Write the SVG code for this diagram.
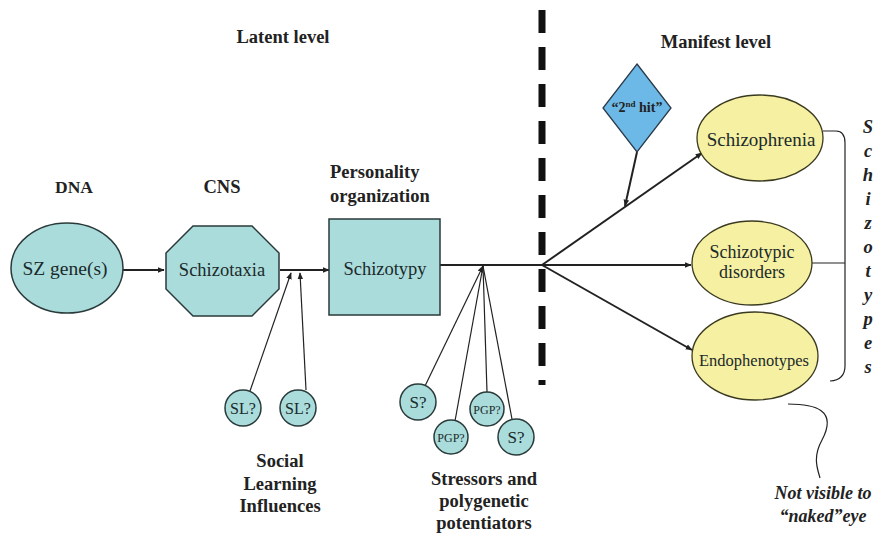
<svg xmlns="http://www.w3.org/2000/svg" width="878" height="536" viewBox="0 0 878 536">
<defs>
<marker id="ah" viewBox="0 0 10 10" refX="9" refY="5" markerWidth="7" markerHeight="7" markerUnits="userSpaceOnUse" orient="auto"><path d="M0,1 L10,5 L0,9 z" fill="#222"/></marker>
</defs>
<style>
text, tspan { font-family: 'Liberation Serif', serif; }
.t{fill:#1a2a2a}
.b{font-weight:bold;fill:#222}
.bi{font-weight:bold;font-style:italic;fill:#222}
.teal{fill:#abdcdc;stroke:#2a3a3a;stroke-width:1.5}
.yel{fill:#f6f0a2;stroke:#3a3a20;stroke-width:1.3}
.ln{stroke:#222;fill:none}
</style>
<rect width="878" height="536" fill="#fff"/>
<g font-family="'Liberation Serif', serif" font-size="18.5">
<text class="b" x="283" y="43" text-anchor="middle">Latent level</text>
<text class="b" x="716" y="48" text-anchor="middle">Manifest level</text>
<text class="b" x="74" y="193" font-size="17.5" text-anchor="middle">DNA</text>
<text class="b" x="222" y="193" text-anchor="middle">CNS</text>
<text class="b" x="330" y="178">Personality</text>
<text class="b" x="330" y="202">organization</text>
</g>
<line x1="542" y1="10" x2="542" y2="385" stroke="#111" stroke-width="7" stroke-dasharray="23,14"/>
<g id="connectors">
<line class="ln" stroke-width="2" x1="123" y1="270" x2="164" y2="270" marker-end="url(#ah)"/>
<line class="ln" stroke-width="2" x1="280" y1="270" x2="329" y2="270" marker-end="url(#ah)"/>
<line class="ln" stroke-width="1.2" x1="250" y1="391" x2="291" y2="273" marker-end="url(#ah)"/>
<line class="ln" stroke-width="1.2" x1="306" y1="390" x2="300" y2="273" marker-end="url(#ah)"/>
<line class="ln" stroke-width="2" x1="440" y1="265" x2="542" y2="265"/>
<line class="ln" stroke-width="1.2" x1="425" y1="386" x2="483" y2="266" marker-end="url(#ah)"/>
<line class="ln" stroke-width="1.2" x1="455" y1="421" x2="483" y2="266"/>
<line class="ln" stroke-width="1.2" x1="487" y1="392" x2="483" y2="266"/>
<line class="ln" stroke-width="1.2" x1="512" y1="419" x2="483" y2="266"/>
<line class="ln" stroke-width="2" x1="542" y1="265" x2="702" y2="153" marker-end="url(#ah)"/>
<line class="ln" stroke-width="2" x1="542" y1="265" x2="691" y2="265" marker-end="url(#ah)"/>
<line class="ln" stroke-width="2" x1="542" y1="265" x2="692" y2="350" marker-end="url(#ah)"/>
<line class="ln" stroke-width="2" x1="637" y1="152" x2="625" y2="206" marker-end="url(#ah)"/>
<path class="ln" stroke-width="1.2" d="M823,131 L836,131 Q845,131 845,143 L845,366 Q845,380 830,381"/>
<line class="ln" stroke-width="1.2" x1="812" y1="263" x2="845" y2="263"/>
<path class="ln" stroke-width="1.2" d="M788,404 C815,404 838,410 822,440 C812,458 818,470 820,478"/>
</g>
<g font-family="'Liberation Serif', serif">
<g id="sz-gene"><ellipse class="teal" cx="67" cy="268" rx="56" ry="45"/><text class="t" x="65" y="275" font-size="19.5" text-anchor="middle">SZ gene(s)</text></g>
<g id="schizotaxia"><polygon class="teal" points="193,226 252,226 279,253 279,289 252,316 193,316 166,289 166,253"/><text class="t" x="222" y="276" font-size="18.5" text-anchor="middle">Schizotaxia</text></g>
<g id="schizotypy"><rect class="teal" x="329" y="219" width="111" height="96"/><text class="t" x="385" y="275" font-size="18.5" text-anchor="middle">Schizotypy</text></g>
<g id="sl1"><circle class="teal" cx="243" cy="408" r="18"/><text class="t" x="243" y="414" font-size="16" text-anchor="middle">SL?</text></g>
<g id="sl2"><circle class="teal" cx="298" cy="408" r="18"/><text class="t" x="298" y="414" font-size="16" text-anchor="middle">SL?</text></g>
<g id="s1"><circle class="teal" cx="418" cy="402" r="18"/><text class="t" x="418" y="408" font-size="17" text-anchor="middle">S?</text></g>
<g id="pgp1"><circle class="teal" cx="451" cy="437" r="17"/><text class="t" x="451" y="442" font-size="12" text-anchor="middle">PGP?</text></g>
<g id="pgp2"><circle class="teal" cx="487" cy="409" r="17"/><text class="t" x="487" y="414" font-size="12" text-anchor="middle">PGP?</text></g>
<g id="s2"><circle class="teal" cx="516" cy="437" r="18"/><text class="t" x="516" y="443" font-size="17" text-anchor="middle">S?</text></g>
<g font-size="18.5" text-anchor="middle">
<text class="b" x="280" y="467">Social</text>
<text class="b" x="280" y="490">Learning</text>
<text class="b" x="280" y="512">Influences</text>
<text class="b" x="484" y="485">Stressors and</text>
<text class="b" x="484" y="507">polygenetic</text>
<text class="b" x="484" y="529">potentiators</text>
</g>
<g id="second-hit"><polygon points="637,64 671,108 637,152 603,108" fill="#6cb8e6" stroke="#2a3a4a" stroke-width="1.3"/><text class="b" x="637" y="112" font-size="14" text-anchor="middle">“2<tspan font-size="9" dy="-5">nd</tspan><tspan dy="5"> hit”</tspan></text></g>
<g id="schizophrenia"><ellipse class="yel" cx="760" cy="138" rx="63" ry="43"/><text class="t" x="761" y="146" font-size="19" text-anchor="middle">Schizophrenia</text></g>
<g id="schizotypic"><ellipse class="yel" cx="752" cy="263" rx="60" ry="42"/><text class="t" x="752" y="258" font-size="18" text-anchor="middle">Schizotypic</text><text class="t" x="752" y="278" font-size="18" text-anchor="middle">disorders</text></g>
<g id="endophenotypes"><ellipse class="yel" cx="755" cy="356" rx="63" ry="44"/><text class="t" x="754" y="366" font-size="16.5" text-anchor="middle">Endophenotypes</text></g>
<g font-size="18.5" text-anchor="middle">
<text class="bi" x="868" y="133">S</text><text class="bi" x="868" y="157">c</text><text class="bi" x="868" y="181">h</text><text class="bi" x="868" y="205">i</text><text class="bi" x="868" y="229">z</text><text class="bi" x="868" y="253">o</text><text class="bi" x="868" y="277">t</text><text class="bi" x="868" y="301">y</text><text class="bi" x="868" y="325">p</text><text class="bi" x="868" y="349">e</text><text class="bi" x="868" y="373">s</text>
</g>
<g font-size="18" text-anchor="middle">
<text class="bi" x="823" y="499">Not visible to</text>
<text class="bi" x="823" y="522">“naked”eye</text>
</g>
</g>
</svg>
